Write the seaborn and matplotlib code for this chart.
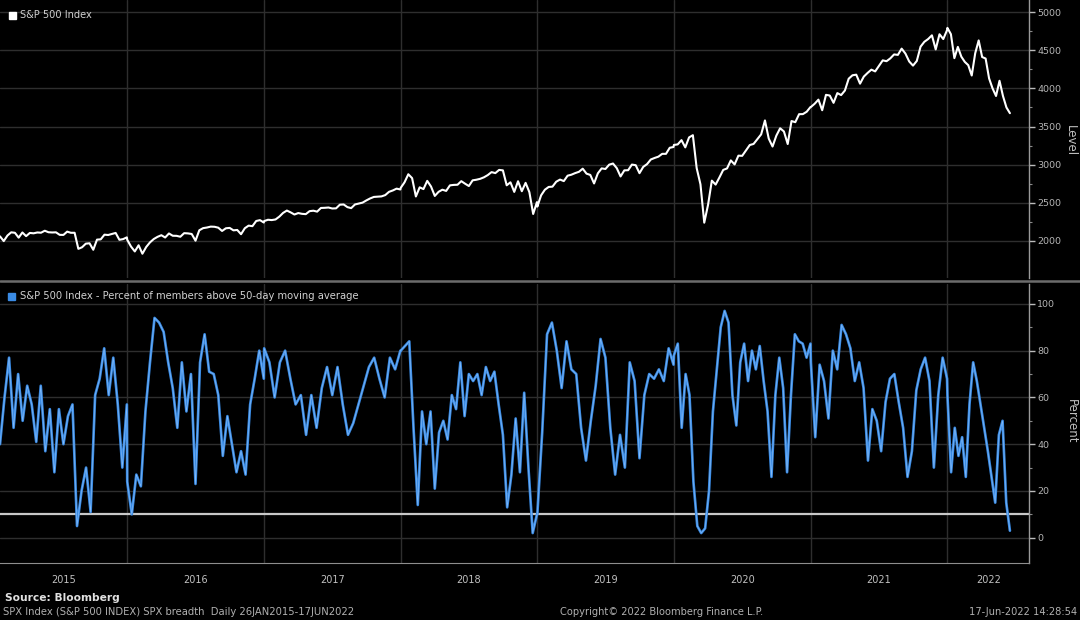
import pandas as pd
import matplotlib
matplotlib.use('Agg')
import matplotlib.pyplot as plt
import matplotlib.dates as mdates
from matplotlib.lines import Line2D
from matplotlib.patches import Rectangle
import seaborn as sns

# S&P 500 level, about three readings a month, one list per calendar year
spx_2015 = [2057, 1995, 2068, 2110, 2104, 2040, 2108, 2060, 2102, 2097, 2108, 2105, 2131, 2111, 2108,
            2110, 2077, 2076, 2119, 2104, 2104, 1893, 1914, 1961, 1966, 1881, 2014, 2018, 2079, 2075,
            2089, 2102, 2012, 2021, 2044]
spx_2016 = [2012, 1923, 1859, 1940, 1829, 1917, 1978, 2022, 2051, 2072, 2042, 2095, 2065, 2064, 2052,
            2099, 2096, 2088, 2000, 2137, 2165, 2173, 2185, 2183, 2171, 2128, 2163, 2168, 2136, 2141,
            2085, 2164, 2198, 2191, 2259, 2270, 2239]
spx_2017 = [2258, 2275, 2271, 2279, 2316, 2365, 2396, 2372, 2344, 2363, 2353, 2349, 2388, 2394, 2382,
            2430, 2432, 2436, 2423, 2425, 2473, 2476, 2441, 2428, 2476, 2488, 2500, 2529, 2555, 2575,
            2579, 2582, 2599, 2642, 2660, 2684, 2673]
spx_2018 = [2695, 2767, 2873, 2822, 2581, 2701, 2678, 2786, 2712, 2588, 2642, 2670, 2654, 2727, 2733,
            2735, 2782, 2749, 2718, 2793, 2801, 2813, 2833, 2862, 2901, 2888, 2930, 2924, 2728, 2767,
            2641, 2781, 2650, 2760, 2637, 2351, 2507]
spx_2019 = [2448, 2596, 2670, 2706, 2710, 2775, 2803, 2783, 2854, 2867, 2888, 2905, 2946, 2881, 2864,
            2752, 2885, 2950, 2942, 2999, 3014, 2953, 2844, 2924, 2926, 3000, 2992, 2887, 2970, 3006,
            3067, 3087, 3104, 3141, 3141, 3221, 3231]
spx_2020 = [3258, 3265, 3321, 3226, 3357, 3386, 2954, 2741, 2237, 2471, 2789, 2737, 2831, 2930, 2949,
            3055, 3002, 3117, 3115, 3185, 3257, 3271, 3333, 3397, 3580, 3341, 3237, 3380, 3477, 3435,
            3270, 3572, 3557, 3662, 3663, 3694, 3756]
spx_2021 = [3756, 3799, 3853, 3714, 3916, 3907, 3811, 3939, 3913, 3973, 4128, 4173, 4181, 4063, 4156,
            4204, 4247, 4224, 4297, 4369, 4358, 4395, 4447, 4441, 4523, 4458, 4354, 4300, 4361, 4549,
            4613, 4649, 4698, 4513, 4712, 4649, 4766]
spx_2022 = [4796, 4713, 4398, 4546, 4418, 4349, 4306, 4170, 4462, 4631, 4413, 4393, 4132, 4001, 3901,
            4101, 3901, 3750, 3675]

# percent of members above 50-day moving average
pct_2015 = [40, 60, 77, 47, 70, 50, 65, 57, 41, 65, 37, 55, 28, 55, 40, 52, 57, 5, 20, 30, 11, 61, 68,
            81, 61, 77, 57, 30, 57]
pct_2016 = [24, 10, 27, 22, 54, 75, 94, 92, 88, 75, 64, 47, 75, 54, 70, 23, 75, 87, 71, 70, 61, 35, 52,
            40, 28, 37, 27, 57, 68, 80, 68]
pct_2017 = [81, 75, 60, 75, 80, 68, 57, 61, 44, 61, 47, 64, 73, 61, 73, 57, 44, 49, 57, 65, 73, 77, 68,
            60, 77, 72, 80]
pct_2018 = [80, 82, 84, 47, 14, 54, 40, 54, 21, 45, 50, 42, 61, 55, 75, 52, 70, 67, 70, 61, 73, 67, 71,
            57, 44, 13, 27, 51, 28, 62, 30, 2, 10]
pct_2019 = [10, 45, 87, 92, 80, 64, 84, 72, 70, 47, 33, 50, 65, 85, 77, 47, 27, 44, 30, 75, 67, 34, 61,
            70, 68, 72, 67, 81, 74]
pct_2020 = [78, 83, 47, 70, 61, 24, 5, 2, 4, 20, 54, 72, 90, 97, 92, 61, 48, 75, 83, 67, 80, 72, 82, 67,
            54, 26, 61, 77, 64, 28, 61, 87, 84, 83, 77, 83]
pct_2021 = [75, 43, 74, 67, 51, 80, 72, 91, 87, 81, 67, 75, 64, 33, 55, 50, 37, 58, 68, 70, 58, 47, 26,
            37, 63, 72, 77, 67, 30, 61, 77, 68]
pct_2022 = [61, 28, 47, 35, 43, 26, 57, 75, 67, 57, 47, 37, 26, 15, 44, 50, 15, 3]

years = [2015, 2016, 2017, 2018, 2019, 2020, 2021, 2022]
spx_lists = [spx_2015, spx_2016, spx_2017, spx_2018, spx_2019, spx_2020, spx_2021, spx_2022]
pct_lists = [pct_2015, pct_2016, pct_2017, pct_2018, pct_2019, pct_2020, pct_2021, pct_2022]
first_day = '2015-01-26'
last_day = '2022-06-17'


def year_span(y):
    start = first_day if y == years[0] else f'{y}-01-01'
    end = last_day if y == years[-1] else f'{y}-12-31'
    return start, end


def build_frame(lists, col):
    parts = []
    for y, vals in zip(years, lists):
        start, end = year_span(y)
        parts.append(pd.DataFrame({'date': pd.date_range(start, end, periods=len(vals)), col: vals}))
    return pd.concat(parts, ignore_index=True)


spx = build_frame(spx_lists, 'level')
breadth = build_frame(pct_lists, 'pct')

sns.set_style('dark', {'axes.facecolor': 'black', 'figure.facecolor': 'black',
                       'grid.color': '#2e2e2e', 'axes.edgecolor': '#8e8e8e',
                       'text.color': '#c4c4c4', 'xtick.color': '#8e8e8e', 'ytick.color': '#b0b0b0'})
plt.rcParams['font.family'] = ['DejaVu Sans']

W, H = 1080, 620
fig = plt.figure(figsize=(W / 100, H / 100), dpi=100)
ax1 = fig.add_axes([0, 1 - 278 / H, 1029 / W, 278 / H])
ax2 = fig.add_axes([0, 1 - 563 / H, 1029 / W, (563 - 284) / H])

blue = '#3a8be4'
sns.lineplot(data=spx, x='date', y='level', ax=ax1, color='white', lw=1.5)
sns.lineplot(data=breadth, x='date', y='pct', ax=ax2, color=blue, lw=1.9)
sns.lineplot(data=breadth, x='date', y='pct', ax=ax2, color='#86bdfa', lw=0.45)
ax2.axhline(10, color='#c8c8c8', lw=1.6, zorder=1)

xmin, xmax = pd.Timestamp(first_day), pd.Timestamp('2022-08-07')
year_starts = [pd.Timestamp(f'{y}-01-01') for y in years[1:]]

for ax in (ax1, ax2):
    ax.set_xlim(xmin, xmax)
    ax.set_xlabel('')
    ax.set_ylabel('')
    ax.yaxis.tick_right()
    ax.grid(True, which='major', color='#2e2e2e', lw=1.0)
    for side in ('top', 'left', 'bottom'):
        ax.spines[side].set_visible(False)
    ax.spines['right'].set_color('#9a9a9a')
    ax.spines['right'].set_linewidth(1.0)
    ax.set_xticks(year_starts)
    ax.xaxis.set_minor_locator(mdates.MonthLocator(bymonth=[4, 7, 10]))
    ax.tick_params(axis='y', which='major', direction='out', length=4, width=1,
                   color='#bbbbbb', labelsize=6.8, labelcolor='#b5b5b5', pad=2)
    ax.tick_params(axis='y', which='minor', direction='out', length=2, width=0.8, color='#888888')

ax1.set_ylim(1510, 5162)
ax1.set_yticks([2000, 2500, 3000, 3500, 4000, 4500, 5000])
ax1.set_yticks([2250, 2750, 3250, 3750, 4250, 4750], minor=True)
ax1.tick_params(axis='x', which='both', length=0, labelbottom=False)

ax2.set_ylim(-10.8, 108.5)
ax2.set_yticks([0, 20, 40, 60, 80, 100])
ax2.set_yticks([10, 30, 50, 70, 90], minor=True)
ax2.spines['bottom'].set_visible(True)
ax2.spines['bottom'].set_color('#8e8e8e')
ax2.set_xticklabels([])
ax2.tick_params(axis='x', which='major', direction='out', length=16, width=1, color='#6e6e6e')
ax2.tick_params(axis='x', which='minor', direction='out', length=3, width=0.8, color='#8e8e8e')

for y in years:
    start, end = year_span(y)
    if y == years[-1]:
        end = xmax
    mid = pd.Timestamp(start) + (pd.Timestamp(end) - pd.Timestamp(start)) / 2
    ax2.text(mid, -0.062, str(y), transform=ax2.get_xaxis_transform(), ha='center', va='center',
             fontsize=7, color='#c0c0c0')

# panel separator and legend swatches
fig.add_artist(Line2D([0, 1], [1 - 281 / H] * 2, transform=fig.transFigure, color='#6c6c6c', lw=1.8))
fig.add_artist(Rectangle((9 / W, 1 - 19 / H), 7 / W, 7 / H, transform=fig.transFigure, color='white'))
fig.add_artist(Rectangle((8 / W, 1 - 300 / H), 7 / W, 7 / H, transform=fig.transFigure, color=blue))
fig.text(20 / W, 1 - 15 / H, 'S&P 500 Index', fontsize=7.1, color='#d0d0d0', va='center')
fig.text(20 / W, 1 - 296 / H, 'S&P 500 Index - Percent of members above 50-day moving average',
         fontsize=7.2, color='#d0d0d0', va='center')

fig.text(1070 / W, 1 - 141 / H, 'Level', rotation=270, fontsize=8.5, color='#c0c0c0', ha='center', va='center')
fig.text(1071 / W, 1 - 421 / H, 'Percent', rotation=270, fontsize=8.5, color='#c0c0c0', ha='center', va='center')

fig.text(5 / W, 1 - 598 / H, 'Source: Bloomberg', fontsize=7.7, fontweight='bold', color='#e0e0e0', va='center')
fig.text(3 / W, 1 - 612 / H, 'SPX Index (S&P 500 INDEX) SPX breadth  Daily 26JAN2015-17JUN2022',
         fontsize=7.2, color='#b0b0b0', va='center')
fig.text(662 / W, 1 - 612 / H, 'Copyright\u00a9 2022 Bloomberg Finance L.P.', fontsize=7.1,
         color='#b0b0b0', ha='center', va='center')
fig.text(1077 / W, 1 - 612 / H, '17-Jun-2022 14:28:54', fontsize=7.1, color='#b0b0b0',
         ha='right', va='center')

fig.savefig('out.png', dpi=100, facecolor='black')
